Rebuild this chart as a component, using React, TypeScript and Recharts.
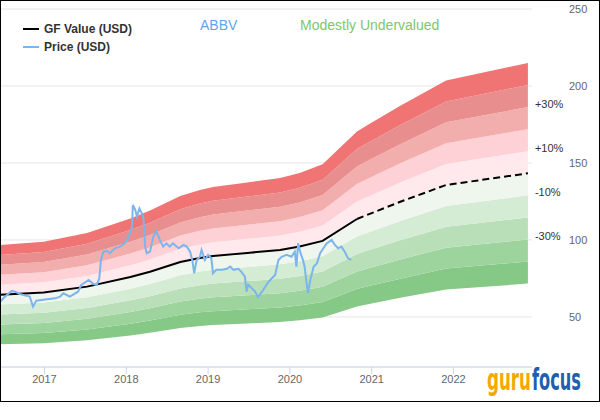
import React from 'react';
import { ComposedChart, Area, Line, XAxis, YAxis, CartesianGrid, ReferenceDot } from 'recharts';

// GF Value (historical, solid)
const gfSolidYears = [2016.456, 2016.99, 2017.52, 2018.05, 2018.29, 2018.66, 2018.9, 2019.06, 2019.48, 2019.88, 2020.12, 2020.4, 2020.82];
const gfSolidValues = [64.5, 65.9, 69.7, 76.0, 79.4, 85.7, 88.3, 89.6, 91.6, 93.5, 95.7, 99.4, 113.6];
// GF Value (projection, dashed)
const gfProjYears = [2020.82, 2020.94, 2021.35, 2021.91, 2022.91];
const gfProjValues = [113.6, 116.2, 124.8, 135.7, 143.3];

// Price (USD)
const priceYears = [
  2016.46, 2016.5, 2016.54, 2016.6, 2016.64, 2016.7, 2016.76, 2016.82, 2016.86, 2016.9,
  2017.03, 2017.13, 2017.19, 2017.23, 2017.31, 2017.41, 2017.45, 2017.54, 2017.6, 2017.64,
  2017.67, 2017.69, 2017.72, 2017.76, 2017.8, 2017.86, 2017.92, 2017.98, 2018.02, 2018.07,
  2018.08, 2018.11, 2018.13, 2018.16, 2018.19, 2018.21, 2018.23, 2018.25, 2018.29, 2018.33,
  2018.37, 2018.41, 2018.45, 2018.49, 2018.53, 2018.57, 2018.64, 2018.7, 2018.74, 2018.78,
  2018.81, 2018.83, 2018.86, 2018.9, 2018.92, 2018.96, 2019.0, 2019.04, 2019.06, 2019.1,
  2019.17, 2019.23, 2019.27, 2019.31, 2019.37, 2019.41, 2019.45, 2019.47, 2019.49, 2019.53,
  2019.57, 2019.61, 2019.66, 2019.7, 2019.74, 2019.78, 2019.82, 2019.86, 2019.9, 2019.96,
  2020.02, 2020.06, 2020.08, 2020.1, 2020.13, 2020.16, 2020.18, 2020.22, 2020.25, 2020.29,
  2020.33, 2020.37, 2020.41, 2020.45, 2020.51, 2020.55, 2020.59, 2020.63, 2020.67, 2020.71,
  2020.75,
];
const priceValues = [
  59.9, 62.3, 64.3, 66.9, 66.4, 64.9, 64.0, 63.2, 56.7, 60.6,
  61.5, 62.1, 63.2, 65.4, 63.2, 66.4, 70.8, 74.0, 71.4, 70.8,
  75.1, 87.0, 92.4, 93.0, 91.4, 94.6, 95.7, 97.9, 101.1, 108.6,
  122.7, 119.5, 115.1, 120.5, 117.3, 114.0, 95.7, 91.4, 92.4, 102.2,
  105.5, 100.0, 95.7, 97.8, 95.7, 97.8, 94.6, 96.8, 95.7, 92.4,
  85.9, 78.4, 87.0, 89.1, 93.5, 87.0, 90.3, 88.1, 78.4, 80.6,
  80.6, 81.3, 82.7, 80.6, 81.3, 79.1, 76.2, 66.4, 71.1, 68.9,
  66.8, 63.0, 66.4, 69.7, 72.9, 75.1, 77.3, 87.0, 89.1, 90.3,
  89.1, 92.4, 82.6, 97.8, 91.4, 87.0, 82.6, 65.4, 74.0, 82.6,
  84.8, 91.4, 94.6, 97.8, 100.0, 96.8, 94.6, 95.7, 92.4, 88.1,
  87.0,
];

// Valuation bands (multiples of GF Value)
const bandLows = [0.5, 0.6, 0.7, 0.8, 0.9, 1.0, 1.1, 1.2, 1.3, 1.4];
const bandHighs = [0.6, 0.7, 0.8, 0.9, 1.0, 1.1, 1.2, 1.3, 1.4, 1.5];
const bandColors = ['#86c986', '#9dd49d', '#b9dfb9', '#d4ebd4', '#eef6ee', '#ffe9ec', '#fdd1d6', '#f2adad', '#e98e8e', '#f07474'];
const bandLabelMultiples = [1.3, 1.1, 0.9, 0.7];
const bandLabels = ['+30%', '+10%', '-10%', '-30%'];

const xTicks = [2017, 2018, 2019, 2020, 2021, 2022];
const yTicks = [50, 100, 150, 200, 250];

const FONT = '"Liberation Sans", Arial, sans-serif';

const gfSolidData = gfSolidYears.map((x, i) => ({ x, v: gfSolidValues[i] }));
const gfProjData = gfProjYears.map((x, i) => ({ x, v: gfProjValues[i] }));
const gfAllData = [...gfSolidData, ...gfProjData.slice(1)];
const priceData = priceYears.map((x, i) => ({ x, v: priceValues[i] }));
const lastGf = gfAllData[gfAllData.length - 1];

export default function App() {
  return (
    <div style={{ position: 'absolute', left: 0, top: 0, width: 600, height: 420, background: '#fff', fontFamily: FONT }}>
      <ComposedChart width={600} height={400} margin={{ top: 9, right: 0, bottom: 0, left: 0 }}>
        <CartesianGrid vertical={false} stroke="#e6e6e6" />
        <XAxis
          type="number"
          dataKey="x"
          domain={[2016.456, 2022.96]}
          ticks={xTicks}
          allowDataOverflow
          height={33}
          stroke="#ccd6eb"
          tickSize={7}
          tickMargin={1}
          tick={{ fill: '#666666', fontSize: 11, fontFamily: FONT }}
        />
        <YAxis
          orientation="right"
          type="number"
          domain={[17.5, 250]}
          ticks={yTicks}
          allowDataOverflow
          width={68}
          axisLine={false}
          tickLine={false}
          tickSize={0}
          tickMargin={37}
          stroke="#666666"
          tick={{ fill: '#666666', fontSize: 11, fontFamily: FONT }}
        />
        {bandLows.map((lo, i) => (
          <Area
            key={'band' + i}
            data={gfAllData}
            dataKey={(d: any) => [d.v * lo, d.v * bandHighs[i]]}
            type="linear"
            stroke="none"
            fill={bandColors[i]}
            fillOpacity={1}
            isAnimationActive={false}
            activeDot={false}
            dot={false}
          />
        ))}
        <Line data={gfSolidData} dataKey="v" type="linear" stroke="#000" strokeWidth={2} dot={false} activeDot={false} isAnimationActive={false} />
        <Line data={gfProjData} dataKey="v" type="linear" stroke="#000" strokeWidth={2} strokeDasharray="7 4" dot={false} activeDot={false} isAnimationActive={false} />
        <Line data={priceData} dataKey="v" type="linear" stroke="#7cb5ec" strokeWidth={2} dot={false} activeDot={false} isAnimationActive={false} />
        {bandLabelMultiples.map((m, i) => (
          <ReferenceDot
            key={'lbl' + i}
            x={lastGf.x}
            y={lastGf.v * m}
            r={0}
            ifOverflow="visible"
            shape={(p: any) => (
              <text x={p.cx + 7} y={p.cy - 3} dominantBaseline="central" fontSize={11} fill="#333" fontFamily={FONT}>
                {bandLabels[i]}
              </text>
            )}
          />
        ))}
      </ComposedChart>

      {/* legend & titles */}
      <svg width={600} height={60} style={{ position: 'absolute', left: 0, top: 0 }}>
        <line x1={23} x2={39} y1={29} y2={29} stroke="#000" strokeWidth={2} />
        <text x={44} y={33} fontSize={12} fontWeight="bold" fill="#333" fontFamily={FONT}>GF Value (USD)</text>
        <line x1={23} x2={39} y1={47} y2={47} stroke="#7cb5ec" strokeWidth={2} />
        <text x={44} y={51} fontSize={12} fontWeight="bold" fill="#333" fontFamily={FONT}>Price (USD)</text>
        <text x={200} y={30} fontSize={14} fill="#5ea6f0" fontFamily={FONT}>ABBV</text>
        <text x={300} y={30} fontSize={14} fill="#7cc86a" fontFamily={FONT}>Modestly Undervalued</text>
      </svg>

      {/* logo */}
      <svg width={110} height={46} style={{ position: 'absolute', left: 484, top: 356 }}>
        <g transform="translate(0,34) scale(1,1.55)">
          <text x={3} y={0} fontSize={20} fontWeight="bold" fill="#f5a800" fontFamily='"DejaVu Sans Condensed", "Liberation Sans Narrow", sans-serif' textLength={44} lengthAdjust="spacingAndGlyphs">guru</text>
          <text x={48} y={0} fontSize={20} fontWeight="bold" fill="#1f5fae" fontFamily='"DejaVu Sans Condensed", "Liberation Sans Narrow", sans-serif' textLength={49} lengthAdjust="spacingAndGlyphs">focus</text>
        </g>
      </svg>

      {/* frame */}
      <div style={{ position: 'absolute', left: 0, top: 0, width: 600, height: 402, border: '1px solid #000', boxSizing: 'border-box', pointerEvents: 'none' }} />
    </div>
  );
}
